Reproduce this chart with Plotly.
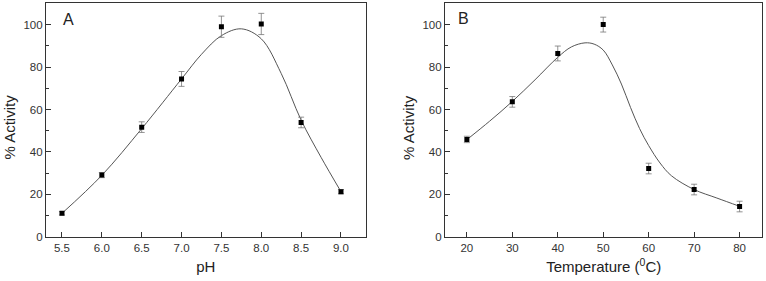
import plotly.graph_objects as go

# Panel A data (pH)
ph = [5.5, 6.0, 6.5, 7.0, 7.5, 8.0, 8.5, 9.0]
ph_activity = [11.1, 29.1, 51.7, 74.4, 99.0, 100.3, 53.9, 21.3]
ph_err = [0.8, 1.2, 2.5, 3.5, 5.0, 5.0, 2.5, 1.0]
# fitted curve
ph_fit_x = [5.5, 6.0, 6.5, 7.0, 7.25, 7.5, 7.75, 8.0, 8.25, 8.5, 8.75, 9.0]
ph_fit_y = [11.1, 29.0, 51.0, 74.4, 86.0, 94.8, 98.0, 93.3, 77.0, 55.0, 37.5, 21.3]

# Panel B data (temperature)
temp = [20, 30, 40, 50, 60, 70, 80]
temp_activity = [45.9, 63.6, 86.4, 100.0, 32.2, 22.3, 14.3]
temp_err = [1.5, 2.5, 3.5, 3.5, 2.5, 2.5, 2.5]
temp_fit_x = [20, 25, 30, 35, 40, 43, 46, 48, 50, 52, 54, 56, 58, 60, 62.5, 65, 70, 75, 80]
temp_fit_y = [45.8, 54.5, 63.8, 74.0, 84.6, 89.5, 91.4, 90.8, 88.0, 81.0, 72.0, 61.0,
              51.0, 43.0, 34.8, 28.8, 22.3, 18.3, 14.4]

y_ticks = [0, 20, 40, 60, 80, 100]
ph_ticks = [5.5, 6.0, 6.5, 7.0, 7.5, 8.0, 8.5, 9.0]
temp_ticks = [20, 30, 40, 50, 60, 70, 80]

FONT = "Liberation Sans, Arial, sans-serif"
AX = "#333333"
TFONT = dict(family=FONT, size=15, color="#222222")
fig = go.Figure()

fig.add_trace(go.Scatter(x=ph_fit_x, y=ph_fit_y, mode="lines",
                         line=dict(color="#555555", width=1, shape="spline", smoothing=1.0),
                         xaxis="x", yaxis="y", showlegend=False, hoverinfo="skip"))
fig.add_trace(go.Scatter(x=ph, y=ph_activity, mode="markers",
                         marker=dict(symbol="square", size=5, color="black"),
                         error_y=dict(type="data", array=ph_err, color="#777777", thickness=0.8, width=3),
                         xaxis="x", yaxis="y", showlegend=False))
fig.add_trace(go.Scatter(x=temp_fit_x, y=temp_fit_y, mode="lines",
                         line=dict(color="#555555", width=1, shape="spline", smoothing=1.0),
                         xaxis="x2", yaxis="y2", showlegend=False, hoverinfo="skip"))
fig.add_trace(go.Scatter(x=temp, y=temp_activity, mode="markers",
                         marker=dict(symbol="square", size=5, color="black"),
                         error_y=dict(type="data", array=temp_err, color="#777777", thickness=0.8, width=3),
                         xaxis="x2", yaxis="y2", showlegend=False))

common = dict(showline=True, linecolor=AX, linewidth=1.3, mirror=True, ticks="inside",
              ticklen=5, tickcolor=AX, showgrid=False, zeroline=False, automargin=False,
              tickfont=dict(family=FONT, size=11.5, color="#333333"))
minor = dict(ticks="inside", ticklen=3, dtick=10, tickcolor=AX)
ydom = [0.157, 0.988]
fig.update_layout(
    template="none",
    width=766, height=281, margin=dict(l=0, r=0, t=0, b=0, pad=0),
    plot_bgcolor="white", paper_bgcolor="white",
    xaxis=dict(domain=[0.0601, 0.4774], range=[5.3, 9.31], tickvals=ph_ticks,
               ticktext=[f"{v:.1f}" for v in ph_ticks],
               title=dict(text="pH", standoff=8, font=TFONT), anchor="y", **common),
    yaxis=dict(domain=ydom, range=[0, 110], tickvals=y_ticks,
               minor=minor, anchor="x", **common),
    xaxis2=dict(domain=[0.581, 0.9952], range=[15.2, 85], tickvals=temp_ticks,
                title=dict(text="Temperature (<sup>0</sup>C)", standoff=8, font=TFONT),
                anchor="y2", **common),
    yaxis2=dict(domain=ydom, range=[0, 110], tickvals=y_ticks,
                minor=minor, anchor="x2", **common),
)
for xp in (0.0118, 0.5333):
    fig.add_annotation(text="% Activity", xref="paper", yref="paper", x=xp, y=0.5463,
                       textangle=-90, showarrow=False, xanchor="center", yanchor="middle",
                       font=TFONT)
fig.add_annotation(text="A", xref="x domain", yref="y domain", x=0.047, y=0.93, xanchor="left",
                   yanchor="middle", showarrow=False, font=dict(family=FONT, size=16, color="#222222"))
fig.add_annotation(text="B", xref="x2 domain", yref="y2 domain", x=0.036, y=0.935, xanchor="left",
                   yanchor="middle", showarrow=False, font=dict(family=FONT, size=16, color="#222222"))

fig.write_html("out.html", config={"displayModeBar": False},
               post_script="document.body.style.margin='0';document.body.style.overflow='hidden';")
